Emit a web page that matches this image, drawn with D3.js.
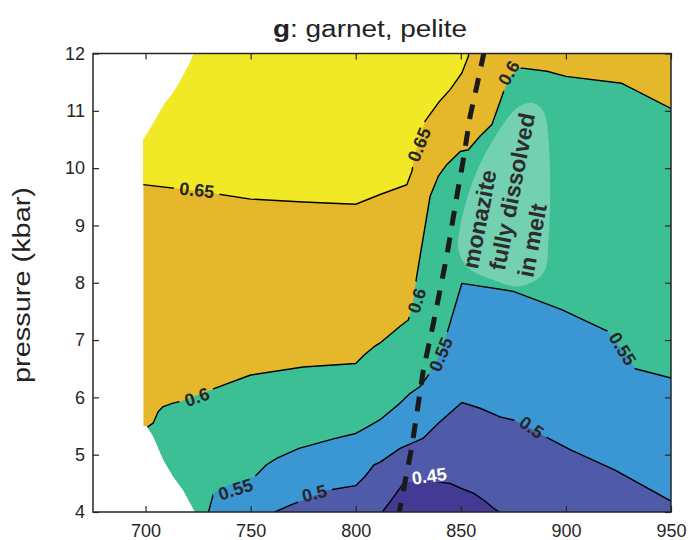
<!DOCTYPE html>
<html>
<head>
<meta charset="utf-8">
<script src="https://cdn.jsdelivr.net/npm/d3@7"></script>
<style>
  body { margin: 0; background: #fff; }
  text { font-family: "Liberation Sans", Arial, sans-serif; }
</style>
</head>
<body>
<div id="chart"></div>
<script>
// temperature (C) / pressure (kbar) pairs

// edge of the computed area (white outside)
var domainEdge = [[698.9,5.5],[698.9,10.5],[702,10.68],[705.5,10.9],[709.2,11.13],[713.1,11.31],
                  [717.1,11.56],[721.1,11.84],[723,12],[950,12],[950,4],[723.5,4],[717.9,4.38],
                  [713.1,4.62],[708.4,4.91],[703.6,5.32],[700.5,5.5]]

// contour lines
var c065 = [[697,9.72],[725,9.6],[750,9.46],[775,9.41],[800,9.37],[811.6,9.54],[824.3,9.71],
            [826.7,9.94],[828,10.2],[830,10.5],[833,10.82],[839.3,11.14],[844.9,11.37],
            [850.5,11.66],[853.6,11.95],[854,12.1]]
var c060 = [[698,5.4],[701.2,5.49],[703.6,5.55],[706,5.75],[708.4,5.84],[713.1,5.9],[716.7,5.93],
            [731,6.13],[750,6.39],[775,6.53],[800,6.59],[804,6.74],[808.6,6.88],[811.6,6.95],
            [821.1,7.24],[825,7.35],[827,7.6],[829,8.11],[832.2,8.81],[835.4,9.51],[839.3,9.86],
            [843.3,10.06],[849.7,10.29],[853.6,10.32],[859.2,10.56],[864.8,10.76],[867.9,11.08],
            [871,11.4],[874,11.62],[878.2,11.75],[891,11.69],[900,11.6],[926.6,11.48],[951,11.02]]
var c055 = [[729.2,3.9],[732.4,4.33],[738,4.45],[752,4.62],[757.4,4.82],[762.6,4.94],[773,5.11],
            [789.8,5.28],[800,5.37],[804.4,5.46],[811.6,5.61],[821.1,5.9],[825.9,6.07],[830.6,6.19],
            [834.6,6.39],[838,6.6],[842,6.95],[844.9,7.3],[850.5,7.99],[875,7.85],[898,7.53],
            [920,7.15],[927,6.82],[933,6.5],[951,6.33]]
var c050 = [[755.3,3.9],[768.9,4.12],[780,4.28],[786.6,4.38],[800,4.46],[804.4,4.62],[808.6,4.82],
            [811.6,4.87],[821.1,5.11],[832.2,5.29],[839.3,5.55],[850.5,5.91],[859.2,5.81],
            [868.7,5.66],[875.4,5.6],[883.7,5.45],[892,5.28],[902.5,5.08],[923.4,4.73],[951,4.17]]
var c045 = [[810.6,3.9],[817,4.21],[822.7,4.5],[830,4.55],[837.8,4.53],[844.9,4.5],[850.3,4.41],
            [856,4.33],[860.8,4.21],[865.5,4.07],[872,3.9]]

// fill colours, highest band first
var bandColors = ["#f1e826", "#e5b82b", "#3dbf95", "#3a97d4", "#4f5aa8", "#433a95"]

// contour labels: text, T, P, angle
var labelText  = ["0.65", "0.65", "0.6", "0.6", "0.6", "0.55", "0.55", "0.55", "0.5", "0.5", "0.45"]
var labelT     = [830.1, 724.4, 872.7, 829.0, 724.4, 742.8, 840.4, 927.0, 780.3, 883.7, 834.9]
var labelP     = [10.41, 9.62, 11.66, 7.69, 6.01, 4.40, 6.75, 6.85, 4.33, 5.48, 4.63]
var labelAngle = [-68, 6, -60, -72, -20, -18, -68, 58, -14, 35, -8]

// monazite-out line (dashed)
var monaziteOut = [[820.2,3.9],[826.7,5.14],[832.2,6.48],[837,7.3],[843.3,8.46],[848.1,9.51],
                   [851.2,10.15],[854.4,10.9],[857.6,11.43],[861.5,12.1]]

// highlighted field
var blob = [[883.8,11.14],[889.3,10.99],[891.7,10.5],[892.5,9.62],[891.7,8.75],[889.3,8.17],
            [878.2,7.94],[865.5,8.05],[852.9,8.28],[848.9,8.58],[849.7,8.98],[856,9.8],
            [865.5,10.5],[876.7,11.05]]
var blobText = ["monazite", "fully dissolved", "in melt"]
var blobT = [858.7, 874.3, 883.8]
var blobP = [9.11, 9.59, 8.74]

var xTicks = [700, 750, 800, 850, 900, 950]
var yTicks = [4, 5, 6, 7, 8, 9, 10, 11, 12]

var width = 689, height = 540

var svg = d3.select("#chart").append("svg")
            .attr("width", width)
            .attr("height", height)

svg.append("rect").attr("width", width).attr("height", height).attr("fill", "#fff")

var x = d3.scaleLinear().domain([675, 950]).range([93, 671])
var y = d3.scaleLinear().domain([4, 12]).range([512, 53.5])

var line = d3.line().x(d => x(d[0])).y(d => y(d[1]))

var defs = svg.append("defs")
defs.append("clipPath").attr("id", "dom")
    .append("path").attr("d", line(domainEdge) + "Z")
defs.append("clipPath").attr("id", "plot")
    .append("rect").attr("x", x(675)).attr("y", y(12))
    .attr("width", x(950) - x(675)).attr("height", y(4) - y(12))

// mask so contour lines break under their labels
var mask = defs.append("mask").attr("id", "lblmask")
                .attr("maskUnits", "userSpaceOnUse")
                .attr("x", 0).attr("y", 0).attr("width", width).attr("height", height)
mask.append("rect").attr("width", width).attr("height", height).attr("fill", "#fff")
labelText.forEach(function (t, i) {
  var w = t.length * 10 + 6
  mask.append("rect")
      .attr("x", -w / 2).attr("y", -8).attr("width", w).attr("height", 16)
      .attr("transform", "translate(" + x(labelT[i]) + "," + y(labelP[i]) + ") rotate(" + labelAngle[i] + ")")
      .attr("fill", "#000")
})

var fills = svg.append("g").attr("clip-path", "url(#dom)")

// base band
fills.append("path").attr("d", line(domainEdge) + "Z").attr("fill", bandColors[1])

var bands = [
  c065.concat([[854, 12.3], [675, 12.3], [675, 9.72]]),
  c060.concat([[951, 3.8], [675, 3.8], [675, 5.4]]),
  c055.concat([[951, 3.8]]),
  c050.concat([[951, 3.8]]),
  c045
]
var bandFill = [bandColors[0], bandColors[2], bandColors[3], bandColors[4], bandColors[5]]

fills.selectAll("path.band")
     .data(bands)
     .enter().append("path")
     .attr("class", "band")
     .attr("d", d => line(d) + "Z")
     .attr("fill", (d, i) => bandFill[i])

// highlighted field
svg.append("path")
   .attr("d", d3.line().x(d => x(d[0])).y(d => y(d[1])).curve(d3.curveCatmullRomClosed)(blob))
   .attr("fill", "#fff")
   .attr("fill-opacity", 0.28)

// contour lines
var lines = svg.append("g").attr("clip-path", "url(#dom)")
               .append("g").attr("mask", "url(#lblmask)")
lines.selectAll("path")
     .data([c065, c060, c055, c050, c045])
     .enter().append("path")
     .attr("d", line)
     .attr("fill", "none")
     .attr("stroke", "#000")
     .attr("stroke-width", 1.4)
     .attr("stroke-linejoin", "round")

// contour labels
svg.append("g").selectAll("text")
   .data(labelText)
   .enter().append("text")
   .attr("transform", (d, i) => "translate(" + x(labelT[i]) + "," + y(labelP[i]) + ") rotate(" + labelAngle[i] + ")")
   .attr("text-anchor", "middle")
   .attr("dy", "0.36em")
   .attr("font-size", 18)
   .attr("font-weight", "bold")
   .attr("fill", (d, i) => d == "0.45" ? "#fff" : "#262626")
   .text(d => d)

// dashed monazite-out line
svg.append("path")
   .attr("clip-path", "url(#plot)")
   .attr("d", line(monaziteOut))
   .attr("fill", "none")
   .attr("stroke", "#1a1a1a")
   .attr("stroke-width", 5)
   .attr("stroke-dasharray", "15,12")

// annotation text
svg.append("g").selectAll("text")
   .data(blobText)
   .enter().append("text")
   .attr("transform", (d, i) => "translate(" + x(blobT[i]) + "," + y(blobP[i]) + ") rotate(-79)")
   .attr("text-anchor", "middle")
   .attr("dy", "0.36em")
   .attr("font-size", 23)
   .attr("font-weight", "bold")
   .attr("fill", "#2d2d2d")
   .text(d => d)

// axes, ticks inside
var axisColor = "#262626"
var gx = svg.append("g").attr("transform", "translate(0," + y(4) + ")")
            .call(d3.axisBottom(x).tickValues(xTicks).tickSize(-6).tickSizeOuter(0).tickPadding(12))
var gxt = svg.append("g").attr("transform", "translate(0," + y(12) + ")")
             .call(d3.axisTop(x).tickValues(xTicks).tickSize(-6).tickSizeOuter(0).tickFormat(""))
var gy = svg.append("g").attr("transform", "translate(" + x(675) + ",0)")
            .call(d3.axisLeft(y).tickValues(yTicks).tickSize(-6).tickSizeOuter(0).tickPadding(8))
var gyr = svg.append("g").attr("transform", "translate(" + x(950) + ",0)")
             .call(d3.axisRight(y).tickValues(yTicks).tickSize(-6).tickSizeOuter(0).tickFormat(""))

;[gx, gxt, gy, gyr].forEach(function (g) {
  g.select(".domain").remove()
  g.selectAll("line").attr("stroke", axisColor).attr("stroke-width", 1.2)
  g.selectAll("text").attr("font-size", 18).attr("fill", axisColor)
    .attr("font-family", "Liberation Sans, Arial, sans-serif")
})

svg.append("rect")
   .attr("x", x(675)).attr("y", y(12))
   .attr("width", x(950) - x(675)).attr("height", y(4) - y(12))
   .attr("fill", "none")
   .attr("stroke", axisColor)
   .attr("stroke-width", 1.5)

// title
var title = svg.append("text")
               .attr("x", 370).attr("y", 37)
               .attr("text-anchor", "middle")
               .attr("font-size", 23)
               .attr("fill", "#222")
               .attr("textLength", 194)
               .attr("lengthAdjust", "spacingAndGlyphs")
title.append("tspan").attr("font-weight", "bold").text("g")
title.append("tspan").text(": garnet, pelite")

// y label
svg.append("text")
   .attr("transform", "translate(30,285) rotate(-90)")
   .attr("text-anchor", "middle")
   .attr("font-size", 23)
   .attr("fill", "#222")
   .attr("textLength", 196)
   .attr("lengthAdjust", "spacingAndGlyphs")
   .text("pressure (kbar)")
</script>
</body>
</html>
